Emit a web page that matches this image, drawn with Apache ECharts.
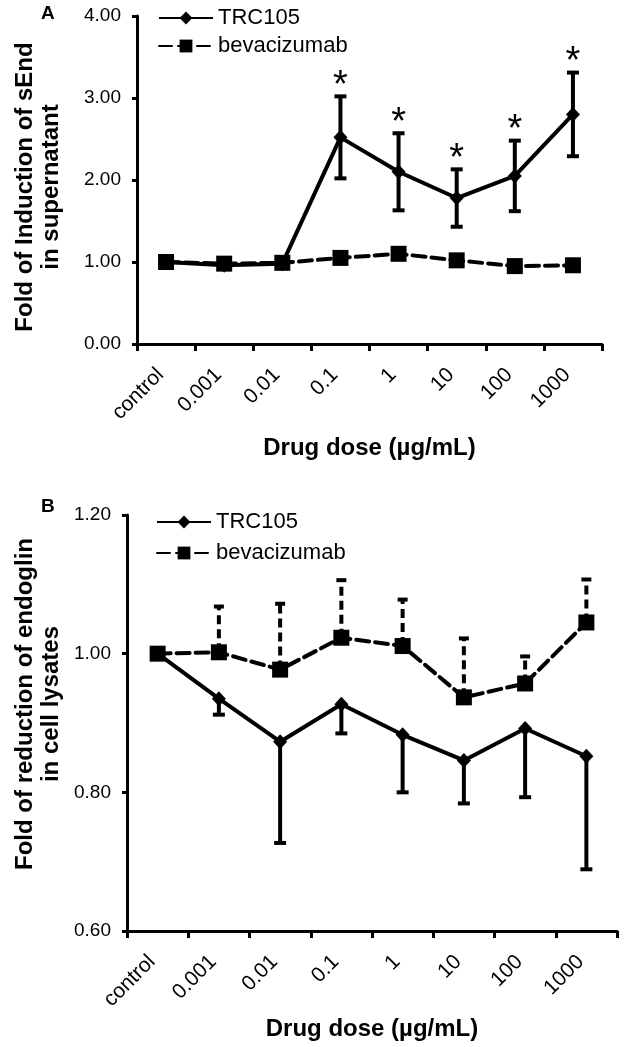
<!DOCTYPE html>
<html><head><meta charset="utf-8">
<script src="https://cdn.jsdelivr.net/npm/echarts@6/dist/echarts.min.js"></script>
<style>html,body{margin:0;padding:0;background:#fff}#c{width:625px;height:1047px}</style>
</head><body><div id="c"></div>
<script>
const categories = ['control','0.001','0.01','0.1','1','10','100','1000'];
// Panel A
const trcA = [1.00,0.96,0.98,2.52,2.10,1.78,2.05,2.80];
const trcAErr = [0,0,0,0.50,0.47,0.35,0.43,0.51];
const bevA = [1.00,0.98,0.99,1.05,1.10,1.02,0.95,0.96];
const sigA = [false,false,false,true,true,true,true,true];
// Panel B
const trcB = [1.00,0.935,0.873,0.927,0.883,0.846,0.892,0.852];
const trcBLow = [null,0.912,0.727,0.885,0.800,0.784,0.793,0.689];
const bevB = [1.00,1.002,0.977,1.023,1.011,0.937,0.957,1.045];
const bevBHigh = [null,1.068,1.072,1.106,1.078,1.022,0.996,1.107];

const FONT = '"Liberation Sans", Arial, Helvetica, sans-serif';
const chart = echarts.init(document.getElementById('c'), null, {renderer:'canvas'});

function errData(lows, highs){
  const out=[];
  for(let i=0;i<lows.length;i++){
    if(lows[i]==null||highs[i]==null) continue;
    if(lows[i]===highs[i]) continue;
    out.push([i, lows[i], highs[i]]);
  }
  return out;
}
function errRender(dashed, capLow, capHigh, capW){
  return function(params, api){
    const x = api.value(0);
    const p1 = api.coord([x, api.value(1)]);
    const p2 = api.coord([x, api.value(2)]);
    const st = {stroke:'#000', lineWidth:4};
    if(dashed){ st.lineDash=[9,5]; }
    const ch = [{type:'line', shape:{x1:p1[0],y1:p1[1],x2:p2[0],y2:p2[1]}, style:st}];
    const w=capW/2;
    if(capLow) ch.push({type:'line', shape:{x1:p1[0]-w,y1:p1[1],x2:p1[0]+w,y2:p1[1]}, style:{stroke:'#000',lineWidth:4}});
    if(capHigh) ch.push({type:'line', shape:{x1:p2[0]-w,y1:p2[1],x2:p2[0]+w,y2:p2[1]}, style:{stroke:'#000',lineWidth:4}});
    return {type:'group', children:ch};
  };
}

const lowA = trcA.map((v,i)=>+(v-trcAErr[i]).toFixed(3));
const highA = trcA.map((v,i)=>+(v+trcAErr[i]).toFixed(3));
const starData = [];
sigA.forEach((s,i)=>{ if(s) starData.push([i, highA[i]]); });

const axisLine = {show:true, lineStyle:{color:'#000', width:3}};
const xTick = {show:true, length:7, lineStyle:{color:'#000', width:3}};
const yTick = {show:true, length:5, lineStyle:{color:'#000', width:3}};
const legendText = {fontSize:22, color:'#000', fontFamily:FONT};

const option = {
  animation:false,
  backgroundColor:'#fff',
  textStyle:{fontFamily:FONT},
  graphic:[
    {type:'text', left:41, top:4, style:{text:'A', font:'bold 19px '+FONT, fill:'#000'}},
    {type:'text', left:41, top:497, style:{text:'B', font:'bold 19px '+FONT, fill:'#000'}},
    {type:'text', x:38, y:187, rotation:Math.PI/2,
     style:{text:'Fold of Induction of sEnd\nin supernatant', font:'bold 24px '+FONT, fill:'#000', align:'center', verticalAlign:'middle', lineHeight:26}},
    {type:'text', x:38, y:704, rotation:Math.PI/2,
     style:{text:'Fold of reduction of endoglin\nin cell lysates', font:'bold 24px '+FONT, fill:'#000', align:'center', verticalAlign:'middle', lineHeight:26}}
  ],
  legend:[
    {data:['TRC105','bevacizumab'], orient:'vertical', left:153, top:2, itemGap:6, itemWidth:54, itemHeight:16,
     textStyle:legendText, selectedMode:false},
    {data:['TRC105','bevacizumab'], orient:'vertical', left:151, top:506, itemGap:9, itemWidth:54, itemHeight:16,
     textStyle:legendText, selectedMode:false}
  ],
  grid:[
    {left:137, top:16, width:465, height:328},
    {left:127, top:515, width:490, height:416}
  ],
  xAxis:[0,1].map(g=>({
    type:'category', gridIndex:g, data:categories, boundaryGap:true,
    axisLine, axisTick:xTick,
    axisLabel:{rotate:45, fontSize:21, color:'#000', fontFamily:FONT, margin:22, interval:0, padding:[0,8,0,0]},
    name:'Drug dose (µg/mL)', nameLocation:'middle', nameGap:g===0?92:86,
    nameTextStyle:{fontSize:24, fontWeight:'bold', color:'#000', fontFamily:FONT, verticalAlign:'top'}
  })),
  yAxis:[
    {type:'value', gridIndex:0, min:0, max:4, interval:1, splitLine:{show:false},
     axisLine, axisTick:yTick,
     axisLabel:{fontSize:19, color:'#000', fontFamily:FONT, margin:16, formatter:v=>v.toFixed(2)}},
    {type:'value', gridIndex:1, min:0.6, max:1.2, interval:0.2, splitLine:{show:false},
     axisLine, axisTick:yTick,
     axisLabel:{fontSize:19, color:'#000', fontFamily:FONT, margin:16, formatter:v=>v.toFixed(2)}}
  ],
  series:[
    {name:'TRC105', type:'line', xAxisIndex:0, yAxisIndex:0, data:trcA, symbol:'diamond', symbolSize:[14,15],
     lineStyle:{color:'#000', width:4}, itemStyle:{color:'#000'}, z:3},
    {name:'bevacizumab', type:'line', xAxisIndex:0, yAxisIndex:0, data:bevA, symbol:'rect', symbolSize:16,
     lineStyle:{color:'#000', width:4, type:[13,6], cap:'round'}, itemStyle:{color:'#000'}, z:4},
    {type:'custom', xAxisIndex:0, yAxisIndex:0, data:errData(lowA, highA), renderItem:errRender(false,true,true,12), z:5},
    {type:'custom', xAxisIndex:0, yAxisIndex:0, data:starData, z:5,
     renderItem:function(params, api){
       const p = api.coord([api.value(0), api.value(1)]);
       return {type:'text', x:p[0], y:p[1]-10, style:{text:'*', font:'38px '+FONT, fill:'#000', align:'center', verticalAlign:'middle'}};
     }},
    {name:'TRC105', type:'line', xAxisIndex:1, yAxisIndex:1, data:trcB, symbol:'diamond', symbolSize:[14,15],
     lineStyle:{color:'#000', width:4}, itemStyle:{color:'#000'}, z:3},
    {name:'bevacizumab', type:'line', xAxisIndex:1, yAxisIndex:1, data:bevB, symbol:'rect', symbolSize:16,
     lineStyle:{color:'#000', width:4, type:[13,6], cap:'round'}, itemStyle:{color:'#000'}, z:4},
    {type:'custom', xAxisIndex:1, yAxisIndex:1, data:errData(trcBLow, trcB), renderItem:errRender(false,true,false,12), z:2},
    {type:'custom', xAxisIndex:1, yAxisIndex:1, data:errData(bevB, bevBHigh), renderItem:errRender(true,false,true,10), z:2}
  ]
};
chart.setOption(option);
</script></body></html>
